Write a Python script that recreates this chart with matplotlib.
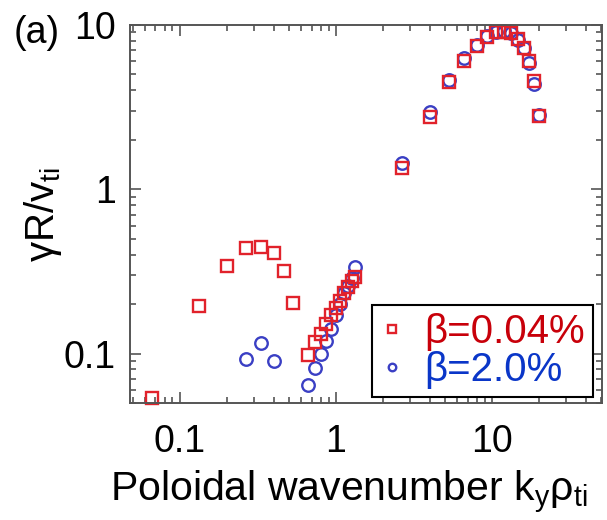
import numpy as np
import matplotlib
matplotlib.use('Agg')
import matplotlib.pyplot as plt
from matplotlib.ticker import LogLocator, NullFormatter, FixedLocator, FixedFormatter

plt.rcParams['font.family'] = ['Liberation Sans', 'DejaVu Sans']
plt.rcParams['mathtext.fontset'] = 'custom'
plt.rcParams['mathtext.rm'] = 'Liberation Sans'
plt.rcParams['mathtext.it'] = 'Liberation Sans'

# growth rate vs k_y rho_ti for two beta values
k_low = [0.0667, 0.133, 0.2, 0.267, 0.333, 0.4, 0.467, 0.533]
k_mid = [0.667, 0.733, 0.8, 0.867, 0.933, 1.0, 1.067, 1.133, 1.2, 1.267, 1.333]
k_high = [2.667, 4.0, 5.333, 6.667, 8.0, 9.333, 10.67, 12.0, 13.33, 14.67, 16.0, 17.33, 18.67, 20.0]

g_red_low = [0.054, 0.194, 0.342, 0.436, 0.447, 0.407, 0.316, 0.204]
g_red_mid = [0.0977, 0.117, 0.132, 0.151, 0.171, 0.19, 0.208, 0.232, 0.255, 0.277, 0.293]
g_red_high = [1.34, 2.77, 4.47, 6.06, 7.41, 8.5, 9.0, 9.1, 8.9, 8.2, 7.24, 6.0, 4.53, 2.8]

k_blue_low = [0.267, 0.333, 0.4]
g_blue_low = [0.093, 0.116, 0.0897]
g_blue_mid = [0.064, 0.0817, 0.1, 0.12, 0.142, 0.171, 0.2, 0.232, 0.257, 0.288, 0.334]
g_blue_high = [1.44, 2.95, 4.64, 6.3, 7.59, 8.6, 9.1, 9.2, 8.95, 8.1, 7.2, 5.9, 4.4, 2.85]

labels = ['β=0.04%', 'β=2.0%']
red = '#e1222b'
blue = '#3a3fc4'
red_txt = '#c8000a'
blue_txt = '#0a36c8'

fig = plt.figure(figsize=(6.07, 5.2), dpi=100)
ax = fig.add_axes([0.214, 0.225, 0.778, 0.727])

k_blue = k_blue_low + k_mid + k_high
g_blue = g_blue_low + g_blue_mid + g_blue_high
k_red = k_low + k_mid + k_high
g_red = g_red_low + g_red_mid + g_red_high

hb, = ax.plot(k_blue, g_blue, 'o', ms=9, mfc='none', mec=blue, mew=1.7, ls='none', clip_on=False)
hr, = ax.plot(k_red, g_red, 's', ms=9, mfc='none', mec=red, mew=1.7, ls='none', clip_on=False)

ax.set_xscale('log')
ax.set_yscale('log')
ax.set_xlim(0.048, 51)
ax.set_ylim(0.05, 10)

ax.xaxis.set_major_locator(FixedLocator([0.1, 1, 10]))
ax.xaxis.set_major_formatter(FixedFormatter(['0.1', '1', '10']))
ax.yaxis.set_major_locator(FixedLocator([0.1, 1, 10]))
ax.yaxis.set_major_formatter(FixedFormatter(['0.1', '1', '10']))
ax.xaxis.set_minor_locator(LogLocator(base=10, subs=np.arange(2, 10)))
ax.yaxis.set_minor_locator(LogLocator(base=10, subs=np.arange(2, 10)))
ax.xaxis.set_minor_formatter(NullFormatter())
ax.yaxis.set_minor_formatter(NullFormatter())

ax.tick_params(which='both', direction='in', top=True, right=True, color='#555555', width=1.2)
ax.tick_params(which='major', length=8, labelsize=27)
ax.tick_params(which='minor', length=4)
ax.tick_params(axis='x', which='major', pad=15)
ax.tick_params(axis='y', which='major', pad=10)
for s in ax.spines.values():
    s.set_color('#555555')
    s.set_linewidth(1.4)

# x label placed by hand so the long subscript fits inside the figure
fig.text(0.182, 0.035, r'Poloidal wavenumber k$_{\mathrm{y}}$ρ$_{\mathrm{ti}}$', fontsize=29.5,
         ha='left', va='baseline')
ax.set_ylabel(r'γR/v$_{\mathrm{ti}}$', fontsize=29, labelpad=0)

fig.text(0.022, 0.937, '(a)', fontsize=27, va='center')

leg = ax.legend([hr, hb], labels, loc='lower right', bbox_to_anchor=(0.981, 0.016),
                borderaxespad=0, fontsize=29, markerscale=0.6, handlelength=0.6,
                handletextpad=0.5, borderpad=0.2, labelspacing=0.0,
                fancybox=False, framealpha=1, edgecolor='black')
leg.get_frame().set_linewidth(1.5)
for t, c in zip(leg.get_texts(), [red_txt, blue_txt]):
    t.set_color(c)

fig.savefig('out.png', dpi=100)
